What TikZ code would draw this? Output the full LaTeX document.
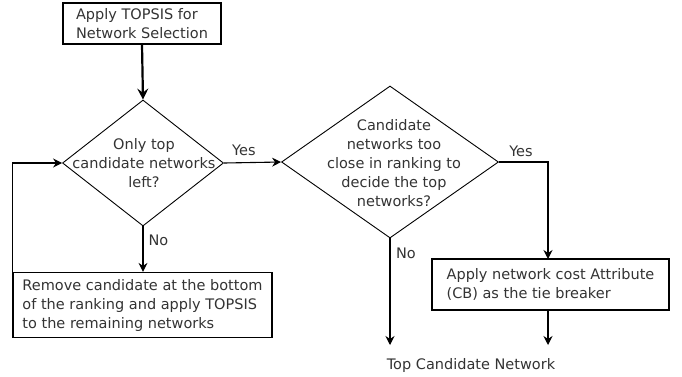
\documentclass[tikz,border=0pt]{standalone}
\usepackage{fontspec}
\setmainfont{DejaVu Sans}
\usetikzlibrary{shapes.geometric,arrows.meta}
\begin{document}
\begin{tikzpicture}[x=1pt,y=-1pt,
  every node/.style={font=\fontsize{14.5}{19}\selectfont, text=black!80},
  procbox/.style={draw=black, line width=1.2pt, align=left, inner sep=0pt},
  decision/.style={draw=black, line width=0.9pt, diamond, inner sep=0pt, aspect=1},
  flow/.style={draw=black, line width=1.1pt, -{Stealth[length=9pt,width=9pt,inset=3pt]}},
  thickflow/.style={draw=black, line width=2.2pt, -{Stealth[length=11pt,width=11pt,inset=4pt]}},
  lbl/.style={inner sep=0pt}]
\useasboundingbox (0,0) rectangle (682,376);
\node[procbox, minimum width=158pt, minimum height=41pt] (start) at (142,23.5) {Apply TOPSIS for\\Network Selection};
\node[decision, minimum width=161pt, minimum height=126pt] (d1) at (143,163) {};
\node[lbl, align=center] (d1t) at (144,163) {Only top\\candidate networks\\left?};
\node[decision, minimum width=217pt, minimum height=152pt] (d2) at (390,162) {};
\node[lbl, align=center] (d2t) at (394,163) {Candidate\\networks too\\close in ranking to\\decide the top\\networks?};
\node[procbox, minimum width=259pt, minimum height=65pt] (remove) at (142.5,305) {Remove candidate at the bottom\\of the ranking and apply TOPSIS\\to the remaining networks};
\node[procbox, minimum width=237pt, minimum height=51pt] (cb) at (550.5,284.5) {Apply network cost Attribute\\(CB) as the tie breaker\hspace{10pt}};
\coordinate (end1) at (390,345);
\coordinate (end2) at (548,345);
\coordinate (cbin) at (548,259);
\node[lbl] (top) at (471,365) {Top Candidate Network};
\draw[thickflow] (start.south) -- (d1.north);
\draw[flow] (d1.east) -- node[lbl, above=6pt, pos=0.35] (y1) {Yes} (d2.west);
\draw[flow] (d1.south) -- node[lbl, right=5pt, pos=0.3] (n1) {No} (d1.south |- remove.north);
\draw[flow] (remove.north west) |- (d1.west);
\draw[flow] (d2.east) -| (cbin);
\node[lbl] (y2) at (521,151) {Yes};
\draw[flow] (d2.south) -- (end1);
\node[lbl] (n2) at (406,253) {No};
\draw[flow] (cbin |- cb.south) -- (end2);
\end{tikzpicture}
\end{document}
